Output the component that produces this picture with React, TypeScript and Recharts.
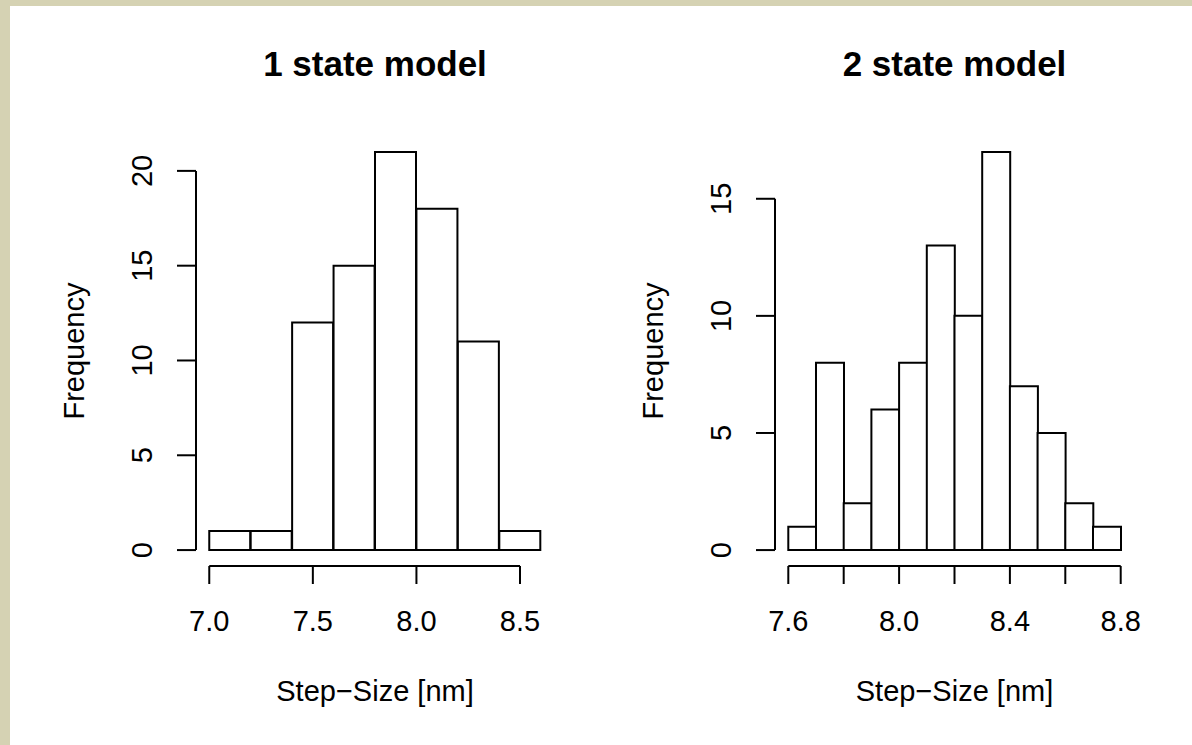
import React from 'react';
import { ComposedChart, Bar, XAxis, YAxis, ReferenceLine, Label } from 'recharts';

const FONT = '"Liberation Sans", Arial, Helvetica, sans-serif';

const leftTitle = '1 state model';
const leftEdges = [7.0, 7.2, 7.4, 7.6, 7.8, 8.0, 8.2, 8.4, 8.6];
const leftCounts = [1, 1, 12, 15, 21, 18, 11, 1];
const leftXTicks = [7.0, 7.5, 8.0, 8.5];
const leftXLabels = ['7.0', '7.5', '8.0', '8.5'];
const leftYTicks = [0, 5, 10, 15, 20];

const rightTitle = '2 state model';
const rightEdges = [7.6, 7.7, 7.8, 7.9, 8.0, 8.1, 8.2, 8.3, 8.4, 8.5, 8.6, 8.7, 8.8];
const rightCounts = [1, 8, 2, 6, 8, 13, 10, 17, 7, 5, 2, 1];
const rightXTicks = [7.6, 7.8, 8.0, 8.2, 8.4, 8.6, 8.8];
const rightXLabels = ['7.6', '', '8.0', '', '8.4', '', '8.8'];
const rightYTicks = [0, 5, 10, 15];

const xTitle = 'Step\u2212Size [nm]';
const yTitle = 'Frequency';

const W = 596;
const H = 745;
const FS = 29;

type HistProps = {
  edges: number[];
  counts: number[];
  xTicks: number[];
  xLabels: string[];
  yTicks: number[];
  margin: { top: number; right: number; bottom: number; left: number };
};

function Hist({ edges, counts, xTicks, xLabels, yTicks, margin }: HistProps) {
  const data = counts.map((c, i) => ({ mid: (edges[i] + edges[i + 1]) / 2, count: c }));
  const x0 = edges[0];
  const x1 = edges[edges.length - 1];
  const xr = x1 - x0;
  const xDomain = [x0 - 0.04 * xr, x1 + 0.04 * xr];
  const ymax = Math.max(...counts);
  const yDomain = [-0.04 * ymax, ymax * 1.04];

  const XTick = (p: any) => (
    <text x={p.x} y={p.y} textAnchor="middle" fontSize={FS} fontFamily={FONT} fill="#000">
      {xLabels[p.index]}
    </text>
  );
  const YTick = (p: any) => (
    <text
      x={p.x}
      y={p.y}
      transform={`rotate(-90, ${p.x}, ${p.y})`}
      textAnchor="middle"
      fontSize={FS}
      fontFamily={FONT}
      fill="#000"
    >
      {p.payload.value}
    </text>
  );
  const XLab = (p: any) => {
    const vb = p.viewBox;
    return (
      <text x={vb.x + vb.width / 2} y={vb.y + 135} textAnchor="middle" fontSize={FS} fontFamily={FONT} fill="#000">
        {xTitle}
      </text>
    );
  };
  const YLab = (p: any) => {
    const vb = p.viewBox;
    const x = vb.x + vb.width - 112.5;
    const y = vb.y + vb.height / 2;
    return (
      <text x={x} y={y} transform={`rotate(-90, ${x}, ${y})`} textAnchor="middle" fontSize={FS} fontFamily={FONT} fill="#000">
        {yTitle}
      </text>
    );
  };

  return (
    <ComposedChart width={W} height={H} data={data} margin={margin} barCategoryGap={0} barGap={0}>
      <XAxis
        dataKey="mid"
        type="number"
        domain={xDomain}
        ticks={xTicks}
        interval={0}
        allowDataOverflow
        height={60}
        axisLine={false}
        tickSize={18}
        tickMargin={47}
        tickLine={{ stroke: '#000', strokeWidth: 2 }}
        tick={XTick}
      >
        <Label content={XLab} />
      </XAxis>
      <YAxis
        type="number"
        domain={yDomain}
        ticks={yTicks}
        interval={0}
        allowDataOverflow
        width={100}
        axisLine={false}
        tickSize={19}
        tickMargin={25}
        tickLine={{ stroke: '#000', strokeWidth: 2 }}
        tick={YTick}
      >
        <Label content={YLab} />
      </YAxis>
      <Bar dataKey="count" fill="#ffffff" stroke="#000000" strokeWidth={2} isAnimationActive={false} />
      <ReferenceLine
        segment={[{ x: xTicks[0], y: yDomain[0] }, { x: xTicks[xTicks.length - 1], y: yDomain[0] }]}
        stroke="#000"
        strokeWidth={2}
        ifOverflow="visible"
      />
      <ReferenceLine
        segment={[{ x: xDomain[0], y: yTicks[0] }, { x: xDomain[0], y: yTicks[yTicks.length - 1] }]}
        stroke="#000"
        strokeWidth={2}
        ifOverflow="visible"
      />
    </ComposedChart>
  );
}

const leftMargin = { top: 136, right: 42, bottom: 119, left: 96 };
const rightMargin = { top: 136, right: 58, bottom: 119, left: 79 };

export default function App() {
  const leftCenter = leftMargin.left + 100 + (W - leftMargin.left - 100 - leftMargin.right) / 2;
  const rightCenter = W + rightMargin.left + 100 + (W - rightMargin.left - 100 - rightMargin.right) / 2;
  return (
    <div style={{ position: 'absolute', left: 0, top: 0, width: 1192, height: 745, background: '#d5d2b3', overflow: 'hidden' }}>
      <div style={{ position: 'absolute', left: 10, top: 6, right: 0, bottom: 0, background: '#ffffff' }} />
      <div style={{ position: 'absolute', left: 0, top: 0, width: W, height: H }}>
        <Hist edges={leftEdges} counts={leftCounts} xTicks={leftXTicks} xLabels={leftXLabels} yTicks={leftYTicks} margin={leftMargin} />
      </div>
      <div style={{ position: 'absolute', left: W, top: 0, width: W, height: H }}>
        <Hist edges={rightEdges} counts={rightCounts} xTicks={rightXTicks} xLabels={rightXLabels} yTicks={rightYTicks} margin={rightMargin} />
      </div>
      <svg width={1192} height={745} style={{ position: 'absolute', left: 0, top: 0, pointerEvents: 'none' }}>
        <text x={leftCenter} y={76} textAnchor="middle" fontSize={35} fontWeight="bold" fontFamily={FONT} fill="#000">
          {leftTitle}
        </text>
        <text x={rightCenter} y={76} textAnchor="middle" fontSize={35} fontWeight="bold" fontFamily={FONT} fill="#000">
          {rightTitle}
        </text>
      </svg>
    </div>
  );
}
